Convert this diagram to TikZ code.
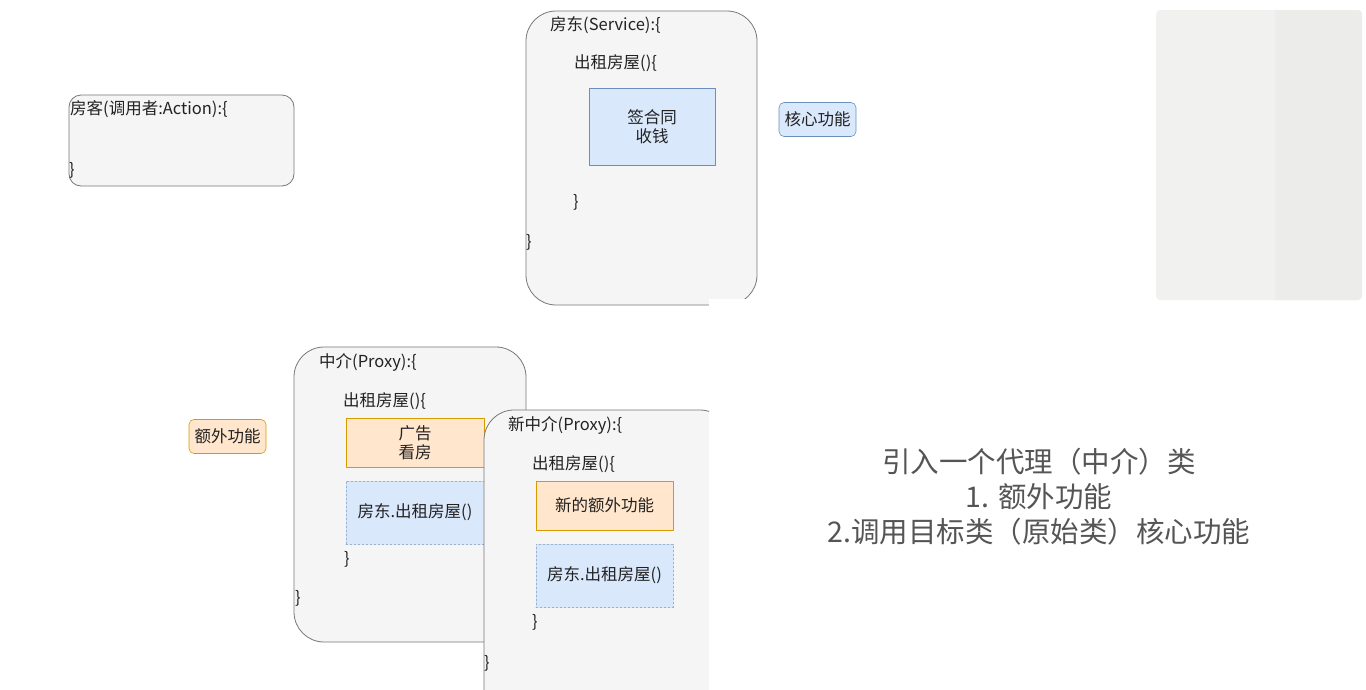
\documentclass[tikz,border=0pt]{standalone}
\usepackage{fontspec}
\setmainfont{Noto Sans CJK SC}
\definecolor{boxGray}{HTML}{F5F5F5}
\definecolor{boxLine}{HTML}{777777}
\definecolor{blueFill}{HTML}{DAE8FC}
\definecolor{blueLine}{HTML}{6C8EBF}
\definecolor{orangeFill}{HTML}{FFE6CC}
\definecolor{orangeLine}{HTML}{D79B00}
\definecolor{noteGray}{HTML}{555555}
\definecolor{panelGray}{HTML}{F1F1F0}
\definecolor{panelRight}{HTML}{ECECEB}
\definecolor{textDark}{HTML}{222222}
\tikzset{
  classbox/.style={draw=boxLine, fill=boxGray, line width=0.8pt, rounded corners=30pt, inner sep=0pt},
  codeline/.style={anchor=west, inner sep=0pt, text=textDark, font=\fontsize{16.5}{19}\selectfont},
  corebox/.style={draw=blueLine, fill=blueFill, line width=0.6pt, inner sep=0pt, align=center,
    text=textDark, font=\fontsize{16.5}{19}\selectfont},
  extrabox/.style={draw=orangeLine, fill=orangeFill, line width=0.6pt, inner sep=0pt, align=center,
    text=textDark, font=\fontsize{16.5}{19}\selectfont},
  callbox/.style={corebox, draw=blueLine!70, dashed, dash pattern=on 2pt off 2pt},
  tagbox/.style={rounded corners=5pt, minimum width=77pt, minimum height=34pt}
}
\begin{document}
\begin{tikzpicture}[x=1pt,y=-1pt,line cap=round,line join=round]
  \useasboundingbox (0,0) rectangle (1366,689);

  % client
  \node[classbox, rounded corners=12pt, minimum width=225pt, minimum height=91pt] (client) at (181.5,140.5) {};
  \node[codeline] (clientHead) at (70,109) {房客(调用者:Action):\{};
  \node[codeline] (clientEnd) at (69,170) {\}};

  % service
  \node[classbox, minimum width=231pt, minimum height=294pt] (service) at (641.5,158) {};
  \fill[white] (709,299) rectangle (770,312);
  \node[codeline] (serviceHead) at (550,25) {房东(Service):\{};
  \node[codeline] (serviceRent) at (574,63) {出租房屋()\{};
  \node[corebox, minimum width=126pt, minimum height=77pt] (core) at (652,126.5) {签合同\\收钱};
  \node[codeline] (serviceRentEnd) at (573,202) {\}};
  \node[codeline] (serviceEnd) at (526,242) {\}};
  \node[corebox, tagbox] (coreTag) at (817.5,119.5) {核心功能};

  % proxy
  \node[classbox, minimum width=232pt, minimum height=295pt] (proxy) at (410,494.5) {};
  \node[codeline] (proxyHead) at (319,362) {中介(Proxy):\{};
  \node[codeline] (proxyRent) at (343,401) {出租房屋()\{};
  \node[extrabox, minimum width=138pt, minimum height=49pt] (ad) at (415,442.5) {广告\\看房};
  \node[callbox, minimum width=138pt, minimum height=63pt] (proxyCall) at (415,512.5) {房东.出租房屋()};
  \node[codeline] (proxyRentEnd) at (344,559) {\}};
  \node[codeline] (proxyEnd) at (295,598) {\}};
  \node[extrabox, tagbox] (extraTag) at (227.5,436.5) {额外功能};

  % new proxy
  \begin{scope}
    \clip (0,0) rectangle (709,689);
    \node[classbox, minimum width=246pt, minimum height=324pt] (newProxy) at (607,572) {};
  \end{scope}
  \node[codeline] (newHead) at (508,425) {新中介(Proxy):\{};
  \node[codeline] (newRent) at (532,464) {出租房屋()\{};
  \node[extrabox, minimum width=137pt, minimum height=49pt] (newExtra) at (604.5,505.5) {新的额外功能};
  \node[callbox, minimum width=137pt, minimum height=63pt] (newCall) at (604.5,575.5) {房东.出租房屋()};
  \node[codeline] (newRentEnd) at (532,622) {\}};
  \node[codeline] (newEnd) at (484,663) {\}};

  % note
  \node[align=center, text=noteGray, font=\fontsize{28.5}{35}\selectfont] (note) at (1039,497)
    {引入一个代理（中介）类\\1. 额外功能\\2.调用目标类（原始类）核心功能};

  % panel
  \fill[panelGray, rounded corners=4pt] (1156,10) rectangle (1362,300);
  \fill[panelRight, rounded corners=4pt] (1277,10) rectangle (1362,300);
  \fill[panelRight] (1277,10) rectangle (1290,300);
  \draw[black!7, line width=1.2pt] (1276,10) -- (1276,300);
\end{tikzpicture}
\end{document}
